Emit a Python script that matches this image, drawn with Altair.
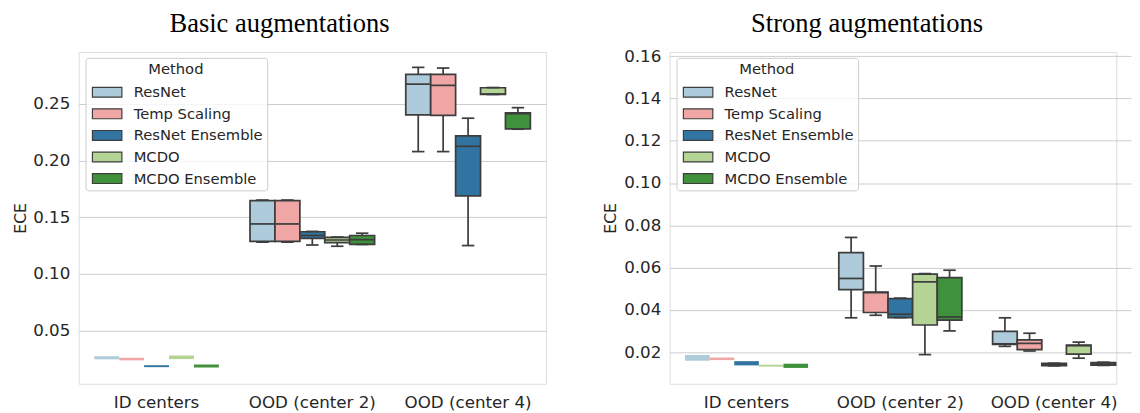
import altair as alt
import pandas as pd

categories = ["ID centers", "OOD (center 2)", "OOD (center 4)"]
methods = ["ResNet", "Temp Scaling", "ResNet Ensemble", "MCDO", "MCDO Ensemble"]
colors = ["#aecbdb", "#efa6a5", "#3274a1", "#b3d495", "#40913b"]

# Basic augmentations: box summaries, ordered category-major, method-minor
basic_low = [0.0245, 0.0236, 0.0176, 0.0247, 0.0172,
             0.1280, 0.1280, 0.1255, 0.1244, 0.1260,
             0.2080, 0.2080, 0.1250, 0.2585, 0.2278]
basic_q1 = [0.0245, 0.0236, 0.0176, 0.0247, 0.0172,
            0.1287, 0.1287, 0.1313, 0.1276, 0.1261,
            0.2404, 0.2400, 0.1689, 0.2586, 0.2280]
basic_med = [0.0258, 0.0247, 0.0184, 0.0263, 0.0186,
             0.1441, 0.1441, 0.1339, 0.1299, 0.1302,
             0.2676, 0.2665, 0.2127, 0.2588, 0.2415]
basic_q3 = [0.0272, 0.0259, 0.0193, 0.0279, 0.0200,
            0.1646, 0.1646, 0.1372, 0.1322, 0.1339,
            0.2763, 0.2763, 0.2219, 0.2644, 0.2422]
basic_high = [0.0272, 0.0259, 0.0193, 0.0279, 0.0200,
              0.1652, 0.1652, 0.1375, 0.1325, 0.1359,
              0.2824, 0.2818, 0.2375, 0.2646, 0.2468]

# Strong augmentations
strong_low = [0.0160, 0.0163, 0.0138, 0.0132, 0.0126,
              0.0363, 0.0375, 0.0364, 0.0189, 0.0301,
              0.0228, 0.0206, 0.0136, 0.0172, 0.0138]
strong_q1 = [0.0160, 0.0163, 0.0138, 0.0132, 0.0126,
             0.0496, 0.0388, 0.0364, 0.0329, 0.0352,
             0.0237, 0.0213, 0.0137, 0.0191, 0.0139]
strong_med = [0.0173, 0.0169, 0.0148, 0.0136, 0.0136,
              0.0549, 0.0482, 0.0380, 0.0533, 0.0367,
              0.0240, 0.0242, 0.0142, 0.0231, 0.0145]
strong_q3 = [0.0187, 0.0175, 0.0158, 0.0141, 0.0146,
             0.0671, 0.0485, 0.0454, 0.0570, 0.0553,
             0.0299, 0.0259, 0.0147, 0.0234, 0.0151]
strong_high = [0.0187, 0.0175, 0.0158, 0.0141, 0.0146,
               0.0743, 0.0608, 0.0456, 0.0572, 0.0588,
               0.0363, 0.0290, 0.0148, 0.0248, 0.0153]

basic_ticks = [0.05, 0.10, 0.15, 0.20, 0.25]
strong_ticks = [0.02, 0.04, 0.06, 0.08, 0.10, 0.12, 0.14, 0.16]

GRAY = "#3d3d3d"
FONT = "DejaVu Sans"
TXT = "#262626"


def panel(title, low, q1, med, q3, high, ydomain, yticks, width, xrange, title_offset,
          ytitle_pad):
    df = pd.DataFrame({
        "category": [c for c in categories for _ in methods],
        "method": methods * len(categories),
        "low": low, "q1": q1, "med": med, "q3": q3, "high": high,
    })
    base = alt.Chart(df)
    xscale = alt.Scale(domain=categories, paddingInner=0, paddingOuter=0, range=xrange)
    x = alt.X("category:N", sort=categories, scale=xscale,
              axis=alt.Axis(title=None, labelAngle=0, ticks=False, domain=False, grid=False,
                            labelFont=FONT, labelFontSize=17, labelColor=TXT, labelPadding=11))
    xo = alt.XOffset("method:N", sort=methods,
                     scale=alt.Scale(domain=methods, paddingInner=0, paddingOuter=0.625))
    yscale = alt.Scale(domain=ydomain, nice=False, zero=False)
    yaxis = alt.Axis(values=yticks, format=".2f", title="ECE", ticks=False, domain=False,
                     grid=True, gridColor="#cccccc", gridWidth=1,
                     labelFont=FONT, labelFontSize=17, labelColor=TXT, labelPadding=9,
                     titleFont=FONT, titleFontSize=16, titleColor=TXT, titleFontWeight="normal",
                     titlePadding=ytitle_pad)

    def Y(f):
        return alt.Y(f + ":Q", scale=yscale, axis=yaxis)

    notid = alt.datum.category != "ID centers"

    lower = base.transform_filter(notid).mark_rule(color=GRAY, strokeWidth=1.75).encode(
        x=x, xOffset=xo, y=Y("low"), y2="q1")
    upper = base.transform_filter(notid).mark_rule(color=GRAY, strokeWidth=1.75).encode(
        x=x, xOffset=xo, y=Y("q3"), y2="high")
    boxes = base.mark_bar(stroke=GRAY, strokeWidth=1.75, opacity=1).encode(
        x=x, xOffset=xo, y=Y("q1"), y2="q3",
        color=alt.Color("method:N", sort=methods,
                        scale=alt.Scale(domain=methods, range=colors),
                        legend=alt.Legend(
                            orient="none", legendX=7, legendY=6, title="Method",
                            titleAnchor="middle", titleFont=FONT, titleFontSize=15,
                            titleFontWeight="normal", titleColor=TXT, titlePadding=5,
                            labelFont=FONT, labelFontSize=15, labelColor=TXT,
                            symbolType="M-1.5,-0.5H1.5V0.5H-1.5Z", symbolSize=400,
                            symbolStrokeColor=GRAY, symbolStrokeWidth=1.2, symbolOpacity=1,
                            symbolOffset=7, labelOffset=16, rowPadding=3, padding=4,
                            fillColor="rgba(255,255,255,0.8)", strokeColor="#cccccc",
                            cornerRadius=3)),
        strokeOpacity=alt.condition(alt.datum.category == "ID centers", alt.value(0), alt.value(1)),
    )
    cap_lo = base.transform_filter(notid).mark_tick(color=GRAY, thickness=1.75, size=12.7,
                                                     orient="horizontal", opacity=1).encode(
        x=x, xOffset=xo, y=Y("low"))
    cap_hi = base.transform_filter(notid).mark_tick(color=GRAY, thickness=1.75, size=12.7,
                                                     orient="horizontal", opacity=1).encode(
        x=x, xOffset=xo, y=Y("high"))
    medians = base.transform_filter(notid).mark_tick(color=GRAY, thickness=1.75, size=25.4,
                                                      orient="horizontal", opacity=1).encode(
        x=x, xOffset=xo, y=Y("med"))
    return alt.layer(lower, upper, boxes, cap_lo, cap_hi, medians).properties(
        width=width, height=338,
        title=alt.TitleParams(title, font="Liberation Serif", fontSize=27, fontWeight="normal",
                              color="black", anchor="middle", frame="bounds",
                              offset=title_offset),
    )


left = panel("Basic augmentations", basic_low, basic_q1, basic_med, basic_q3, basic_high,
             [0.0029, 0.296], basic_ticks, 476, [0, 476], 14, 4)
right = panel("Strong augmentations", strong_low, strong_q1, strong_med, strong_q3, strong_high,
              [0.0051, 0.162], strong_ticks, 455, [0, 470], 10, 5)

chart = alt.hconcat(left, right, spacing=56).resolve_scale(
    color="independent", y="independent", x="independent", xOffset="independent"
).resolve_legend(color="independent").properties(
    padding={"left": 4, "top": -3, "right": 0, "bottom": 0}
).configure_view(stroke="#cccccc", strokeWidth=1.25).configure(background="white")

chart.save("out.html", embed_options={"renderer": "svg", "actions": False})
